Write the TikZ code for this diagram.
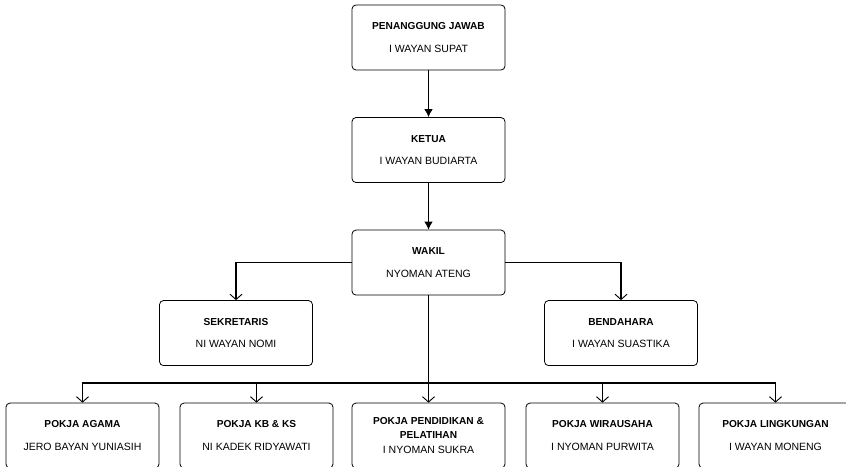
\documentclass[tikz,border=0pt]{standalone}
\usepackage{fontspec}
\setmainfont{Liberation Sans}
\usetikzlibrary{arrows.meta,calc,positioning}
\newcommand{\jab}[1]{{\fontsize{7.6}{10}\selectfont\bfseries #1}}
\tikzset{
    block/.style = {draw, rectangle, rounded corners=3pt, line width=0.6pt,
        minimum height=48.75pt, minimum width=114.75pt, align=center,
        font=\fontsize{7.9}{10}\selectfont},
    line/.style = {draw, line width=1pt},
    arrow/.style = {line, -{Latex[length=6pt,width=6.5pt]}},
    branch/.style = {line, -{Straight Barb[length=4pt,width=9pt,line width=0.7pt]}},
    split/.style = {coordinate}
}
\begin{document}
\begin{tikzpicture}[x=0.75pt, y=-0.75pt, node distance=84.4pt]
        \useasboundingbox (0,0) rectangle (846,467);
        \node [block] (pj) at (428.5,37.5) {\jab{PENANGGUNG JAWAB}\\[7pt] I WAYAN SUPAT};
        \node [block, below of=pj] (ketua) {\jab{KETUA}\\[7pt] I WAYAN BUDIARTA};
        \node [block, below of=ketua] (wakil) {\jab{WAKIL}\\[7pt] NYOMAN ATENG};
        \draw [arrow] (pj) -- (ketua);
        \draw [arrow] (ketua) -- (wakil);
        % sekretaris dan bendahara
        \node [block] (sekr) at ($(wakil)+(-192.5,70.5)$) {\jab{SEKRETARIS}\\[7pt] NI WAYAN NOMI};
        \node [block] (benda) at ($(wakil)+(192.5,70.5)$) {\jab{BENDAHARA}\\[7pt] I WAYAN SUASTIKA};
        \draw [branch] (wakil.west) -| (sekr);
        \draw [branch] (wakil.east) -| (benda);
        % pokja
        \node [block, below of=wakil, node distance=129.75pt] (pend) {\jab{POKJA PENDIDIKAN \&}\\[0pt] \jab{PELATIHAN}\\[1.5pt] I NYOMAN SUKRA};
        \node [block, left of=pend, node distance=129pt] (kbks) {\jab{POKJA KB \& KS}\\[7pt] NI KADEK RIDYAWATI};
        \node [block, left of=kbks, node distance=130.5pt] (agama) {\jab{POKJA AGAMA}\\[7pt] JERO BAYAN YUNIASIH};
        \node [block, right of=pend, node distance=130.5pt] (wira) {\jab{POKJA WIRAUSAHA}\\[7pt] I NYOMAN PURWITA};
        \node [block, right of=wira, node distance=129.75pt] (ling) {\jab{POKJA LINGKUNGAN}\\[7pt] I WAYAN MONENG};
        \node [split] (bar) at ($(wakil)+(0,120.5)$) {};
        \draw [branch] (wakil) -- (pend);
        \foreach \n in {agama,kbks,wira,ling}{
            \draw [branch] (bar) -| (\n);
            }
\end{tikzpicture}
\end{document}
